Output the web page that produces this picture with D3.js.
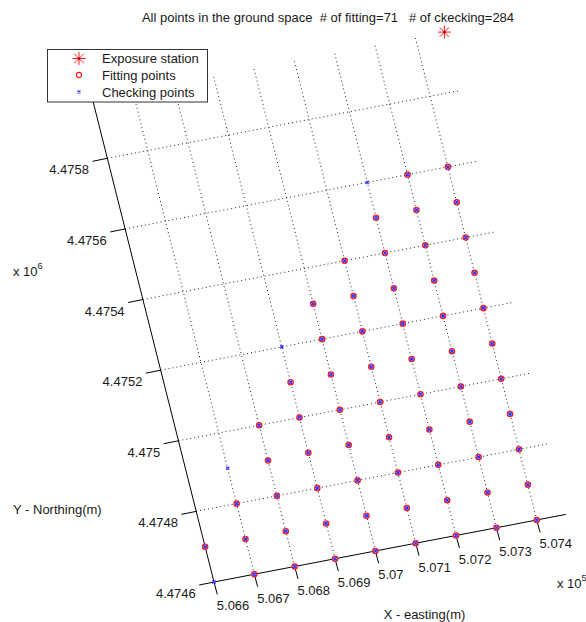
<!DOCTYPE html>
<html>
  <head>
    <meta charset="utf-8">
    <title>All points in the ground space</title>
    <style>
      body { margin: 0; background: #fff; }
      text { font-family: "Liberation Sans", Arial, sans-serif; font-size: 13px; fill: #1a1a1a; }
    </style>
  </head>
  <body>
    <script src="https://d3js.org/d3.v7.min.js"></script>
    <svg id="chart" width="586" height="622"></svg>
    <script>
      // axis limits (ground space, metres)
      xMin = 506600
      xMax = 507472
      yMin = 4474600
      yMax = 4475966

      xTicks = [506600, 506700, 506800, 506900, 507000, 507100, 507200, 507300, 507400]
      xTickLabels = ["5.066", "5.067", "5.068", "5.069", "5.07", "5.071", "5.072", "5.073", "5.074"]
      yTicks = [4474600, 4474800, 4475000, 4475200, 4475400, 4475600, 4475800]
      yTickLabels = ["4.4746", "4.4748", "4.475", "4.4752", "4.4754", "4.4756", "4.4758"]

      // fitting points, one row per northing
      fitRows = [
        {n: 4474600, e: [506700, 506800, 506900, 507000, 507100, 507200, 507300, 507400]},
        {n: 4474700, e: [506600, 506700, 506800, 506900, 507000, 507100, 507200, 507300, 507400]},
        {n: 4474800, e: [506700, 506800, 506900, 507000, 507100, 507200, 507300, 507400]},
        {n: 4474900, e: [506800, 506900, 507000, 507100, 507200, 507300, 507400]},
        {n: 4475000, e: [506800, 506900, 507000, 507100, 507200, 507300, 507400]},
        {n: 4475100, e: [506900, 507000, 507100, 507200, 507300, 507400]},
        {n: 4475200, e: [507000, 507100, 507200, 507300, 507400]},
        {n: 4475300, e: [507000, 507100, 507200, 507300, 507400]},
        {n: 4475400, e: [507100, 507200, 507300, 507400]},
        {n: 4475500, e: [507200, 507300, 507400]},
        {n: 4475600, e: [507300, 507400]}
      ]
      // checking points that are not also fitting points
      checkOnlyE = [506600, 506700, 506900, 507200]
      checkOnlyN = [4474600, 4474900, 4475200, 4475600]

      station = [507472, 4475966]

      fitPts = fitRows.flatMap(r => r.e.map(e => [e, r.n]))
      checkPts = fitPts.concat(checkOnlyE.map((e, i) => [e, checkOnlyN[i]]))

      // oblique view of the ground plane
      origin = [214, 582]
      xAxisVec = [351.8, -67.6]
      yAxisVec = [-121.4, -482.3]
      xs = d3.scaleLinear().domain([xMin, xMax]).range([0, 1])
      ys = d3.scaleLinear().domain([yMin, yMax]).range([0, 1])
      function proj(x, y) {
        let a = xs(x), b = ys(y)
        return [origin[0] + a * xAxisVec[0] + b * yAxisVec[0],
                origin[1] + a * xAxisVec[1] + b * yAxisVec[1]]
      }

      let svg = d3.select('#chart')
      svg.append('rect').attr('width', 586).attr('height', 622).attr('fill', '#fff')

      let line = d3.line()

      // grid
      let grid = svg.append('g')
        .attr('fill', 'none')
        .attr('stroke', '#222')
        .attr('stroke-width', 1)
        .attr('stroke-dasharray', '1,3')
      grid.selectAll('.gx').data(xTicks.slice(1)).join('path')
        .attr('d', x => line([proj(x, yMin), proj(x, yMax)]))
      grid.selectAll('.gy').data(yTicks.slice(1)).join('path')
        .attr('d', y => line([proj(xMin, y), proj(xMax, y)]))

      // axis lines
      let axes = svg.append('g').attr('stroke', '#000').attr('fill', 'none').attr('stroke-width', 1)
      axes.append('path').attr('d', line([proj(xMin, yMin), proj(xMax, yMin)]))
      axes.append('path').attr('d', line([proj(xMin, yMin), proj(xMin, yMax)]))

      xTickVec = [3.3, 12.4]
      yTickVec = [-14.8, 3.0]
      axes.selectAll('.tx').data(xTicks).join('path')
        .attr('d', x => { let p = proj(x, yMin); return line([p, [p[0] + xTickVec[0], p[1] + xTickVec[1]]]) })
      axes.selectAll('.ty').data(yTicks).join('path')
        .attr('d', y => { let p = proj(xMin, y); return line([p, [p[0] + yTickVec[0], p[1] + yTickVec[1]]]) })

      svg.append('g').selectAll('text').data(xTicks).join('text')
        .attr('x', x => proj(x, yMin)[0] + xTickVec[0] - 0.5)
        .attr('y', x => proj(x, yMin)[1] + xTickVec[1] + 16)
        .text((x, i) => xTickLabels[i])
      svg.append('g').selectAll('text').data(yTicks).join('text')
        .attr('text-anchor', 'end')
        .attr('x', y => proj(xMin, y)[0] + yTickVec[0] - 3.5)
        .attr('y', y => proj(xMin, y)[1] + yTickVec[1] + 13)
        .text((y, i) => yTickLabels[i])

      // exponents and axis labels
      let e6 = svg.append('text').attr('x', 13).attr('y', 276)
      e6.append('tspan').text('x 10')
      e6.append('tspan').attr('dy', -7).attr('font-size', 9).text('6')
      let e5 = svg.append('text').attr('x', 557).attr('y', 588)
      e5.append('tspan').text('x 10')
      e5.append('tspan').attr('dy', -7).attr('font-size', 9).text('5')
      svg.append('text').attr('x', 13).attr('y', 514).text('Y - Northing(m)')
      svg.append('text').attr('x', 424.5).attr('y', 619).attr('text-anchor', 'middle').text('X - easting(m)')
      svg.append('text').attr('x', 328).attr('y', 22).attr('text-anchor', 'middle')
        .attr('xml:space', 'preserve')
        .text('All points in the ground space  # of fitting=71   # of ckecking=284')

      // markers
      function star(g, p, r) {
        let d = r * 0.72
        g.append('path')
          .attr('d', line([[p[0] - r, p[1]], [p[0] + r, p[1]]]) + line([[p[0], p[1] - r], [p[0], p[1] + r]]) +
                     line([[p[0] - d, p[1] - d], [p[0] + d, p[1] + d]]) + line([[p[0] - d, p[1] + d], [p[0] + d, p[1] - d]]))
          .attr('stroke', '#ff2020').attr('stroke-width', 1).attr('fill', 'none')
        g.append('circle').attr('cx', p[0]).attr('cy', p[1]).attr('r', 1.3).attr('fill', '#b00000')
      }
      function cross(g, p, r, color) {
        g.append('path')
          .attr('d', line([[p[0] - r, p[1] - r], [p[0] + r, p[1] + r]]) + line([[p[0] - r, p[1] + r], [p[0] + r, p[1] - r]]))
          .attr('stroke', color).attr('stroke-width', 1.2).attr('fill', 'none')
      }

      let marks = svg.append('g')
      star(marks, proj(station[0], station[1]), 6.5)
      marks.selectAll('circle.fit').data(fitPts).join('circle')
        .attr('class', 'fit')
        .attr('cx', d => proj(d[0], d[1])[0])
        .attr('cy', d => proj(d[0], d[1])[1])
        .attr('r', 2.7)
        .attr('fill', '#9a9aff')
        .attr('stroke', '#ff1a1a')
        .attr('stroke-width', 1.2)
      let checks = svg.append('g')
      checkPts.forEach(d => cross(checks, proj(d[0], d[1]), 1.6, '#3030ff'))

      // legend
      let lg = svg.append('g')
      lg.append('rect').attr('x', 47.5).attr('y', 49.5).attr('width', 160).attr('height', 52.5)
        .attr('fill', '#fff').attr('stroke', '#333').attr('stroke-width', 1)
      star(lg, [79, 58.5], 6.5)
      lg.append('circle').attr('cx', 79).attr('cy', 75).attr('r', 2.6)
        .attr('fill', 'none').attr('stroke', '#ff1a1a').attr('stroke-width', 1.1)
      cross(lg, [79, 92], 1.5, '#3b3bff')
      let names = ['Exposure station', 'Fitting points', 'Checking points']
      lg.selectAll('text').data(names).join('text')
        .attr('x', 102).attr('y', (d, i) => 63 + i * 17)
        .text(d => d)
    </script>
  </body>
</html>
